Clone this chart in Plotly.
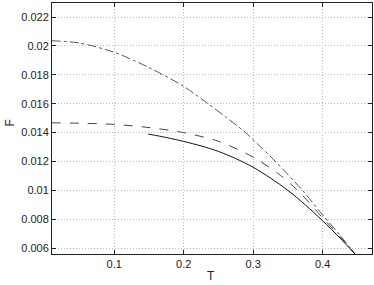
import plotly.graph_objects as go

# Data
solid_T = [0.149, 0.175, 0.2, 0.225, 0.25, 0.275, 0.3, 0.325, 0.35, 0.375, 0.4, 0.425, 0.4465]
solid_F = [0.0139, 0.01366, 0.01339, 0.01308, 0.0127, 0.0122, 0.0116, 0.01085, 0.0100, 0.0090, 0.0079, 0.0067, 0.0056]

dashed_T = [0.01, 0.05, 0.1, 0.15, 0.2, 0.25, 0.3, 0.335, 0.364, 0.4, 0.425, 0.4465]
dashed_F = [0.01468, 0.01465, 0.01457, 0.01435, 0.0140, 0.0134, 0.0123, 0.0112, 0.0100, 0.0081, 0.0068, 0.0056]

dashdot_T = [0.01, 0.05, 0.1, 0.15, 0.2, 0.235, 0.26, 0.289, 0.311, 0.33, 0.371, 0.4, 0.425, 0.4465]
dashdot_F = [0.02036, 0.0202, 0.01956, 0.0185, 0.0172, 0.016, 0.0151, 0.0140, 0.0130, 0.0121, 0.0100, 0.0083, 0.0069, 0.0056]

x_ticks = [0.1, 0.2, 0.3, 0.4]
x_ticktext = ["0.1", "0.2", "0.3", "0.4"]
y_ticks = [0.006, 0.008, 0.010, 0.012, 0.014, 0.016, 0.018, 0.020, 0.022]
y_ticktext = ["0.006", "0.008", "0.01", "0.012", "0.014", "0.016", "0.018", "0.02", "0.022"]

FONT = "Liberation Sans, Arial, sans-serif"

fig = go.Figure()
fig.add_trace(go.Scatter(x=dashdot_T, y=dashdot_F, mode="lines",
                         line=dict(color="#555555", width=1, dash="dashdot", shape="spline", smoothing=0.8)))
fig.add_trace(go.Scatter(x=dashed_T, y=dashed_F, mode="lines",
                         line=dict(color="#444444", width=1, dash="dash", shape="spline", smoothing=0.8)))
fig.add_trace(go.Scatter(x=solid_T, y=solid_F, mode="lines",
                         line=dict(color="#111111", width=1, shape="spline", smoothing=0.8)))

axis_common = dict(
    showline=True, linecolor="#222222", linewidth=1, mirror="ticks",
    ticks="inside", ticklen=4, tickcolor="#222222",
    showgrid=True, gridcolor="#bbbbbb", griddash="1px,2px", gridwidth=1,
    zeroline=False, automargin=False,
    tickfont=dict(family=FONT, size=11, color="#222222"),
)
fig.update_xaxes(range=[0.0104, 0.471], tickvals=x_ticks, ticktext=x_ticktext, **axis_common)
fig.update_yaxes(range=[0.0056, 0.02297], tickvals=y_ticks, ticktext=y_ticktext, **axis_common)
fig.update_layout(
    width=374, height=285, showlegend=False,
    margin=dict(l=52, r=2, t=3, b=31),
    plot_bgcolor="white", paper_bgcolor="white",
    annotations=[
        dict(text="T", xref="paper", yref="paper", x=0.497, y=0, yshift=-22, yanchor="middle",
             showarrow=False, font=dict(family=FONT, size=12, color="#222222")),
        dict(text="F", xref="paper", yref="paper", x=0, xshift=-42, y=0.52, xanchor="center",
             textangle=-90, showarrow=False, font=dict(family=FONT, size=12, color="#222222")),
    ],
)
fig.write_html("out.html", config={"displayModeBar": False},
               post_script="document.body.style.margin='0';document.body.style.overflow='hidden';")
